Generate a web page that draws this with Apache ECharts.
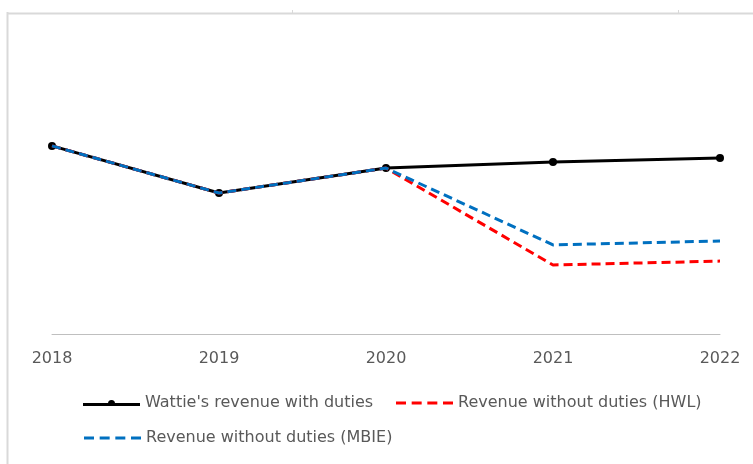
<!DOCTYPE html>
<html><head><meta charset="utf-8">
<script src="https://cdn.jsdelivr.net/npm/echarts@6/dist/echarts.min.js"></script>
<style>html,body{margin:0;padding:0;background:#fff}#c{width:753px;height:464px}</style>
</head><body><div id="c"></div>
<script>
const years = ['2018','2019','2020','2021','2022'];
const withDuties = [62.7, 47.0, 55.3, 57.3, 58.7];
const withoutHWL = [62.7, 47.0, 55.3, 23.0, 24.3];
const withoutMBIE = [62.7, 47.0, 55.3, 29.7, 31.0];
const seriesNames = ["Wattie's revenue with duties", 'Revenue without duties (HWL)', 'Revenue without duties (MBIE)'];

const dashIcon = 'path://M0,0h10v3h-10z M15.67,0h10v3h-10z M31.33,0h10v3h-10z M47,0h10v3h-10z';
const markerIcon = 'path://M0,4h57v3h-57z M25,4.5a3.5,3.5 0 0 1 7,0z';

const chart = echarts.init(document.getElementById('c'), null, {renderer:'canvas'});
const legendText = {color:'#595959', fontSize:16, fontFamily:'DejaVu Sans', lineHeight:20};
chart.setOption({
  animation:false,
  backgroundColor:'#fff',
  grid:{left:52, right:33, top:34, bottom:130},
  xAxis:{type:'category', data:years, boundaryGap:false,
    axisLine:{lineStyle:{color:'#bfbfbf', width:1}},
    axisTick:{show:false},
    axisLabel:{color:'#595959', fontSize:16, fontFamily:'DejaVu Sans', margin:17}},
  yAxis:{type:'value', min:0, max:100, show:false, splitLine:{show:false}},
  legend:[
    {data:[{name:seriesNames[0], icon:markerIcon}], left:83, top:393, padding:0, itemWidth:57, itemHeight:7, textStyle:legendText},
    {data:[{name:seriesNames[1], icon:dashIcon}], left:396, top:393, padding:0, itemWidth:57, itemHeight:3, textStyle:legendText},
    {data:[{name:seriesNames[2], icon:dashIcon}], left:84, top:428, padding:0, itemWidth:57, itemHeight:3, textStyle:legendText}
  ],
  graphic:[
    {type:'line', shape:{x1:8, y1:13.5, x2:753, y2:13.5}, style:{stroke:'#d9d9d9', lineWidth:2}},
    {type:'line', shape:{x1:7.5, y1:12, x2:7.5, y2:464}, style:{stroke:'#d9d9d9', lineWidth:2}},
    {type:'line', shape:{x1:292.5, y1:10, x2:292.5, y2:14}, style:{stroke:'#d9d9d9', lineWidth:1}},
    {type:'line', shape:{x1:678.5, y1:10, x2:678.5, y2:14}, style:{stroke:'#d9d9d9', lineWidth:1}}
  ],
  series:[
    {name:seriesNames[0], type:'line', data:withDuties, color:'#000000',
      lineStyle:{color:'#000', width:3}, symbol:'circle', symbolSize:8,
      itemStyle:{color:'#000'}, z:2},
    {name:seriesNames[1], type:'line', data:withoutHWL, color:'#ff0000',
      lineStyle:{color:'#ff0000', width:3, type:[9,5]}, symbol:'none', z:3},
    {name:seriesNames[2], type:'line', data:withoutMBIE, color:'#0070c0',
      lineStyle:{color:'#0070c0', width:3, type:[9,5]}, symbol:'none', z:4}
  ]
});
</script></body></html>
